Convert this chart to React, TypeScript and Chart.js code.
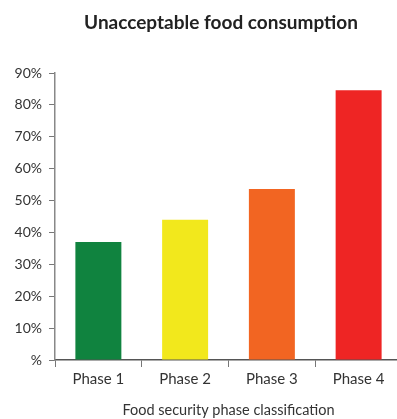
import React, { useEffect, useRef } from "react";
import { Chart, registerables } from "chart.js";

Chart.register(...registerables);

const chartTitle = "Unacceptable food consumption";
const xAxisTitle = "Food security phase classification";
const categories = ["Phase 1", "Phase 2", "Phase 3", "Phase 4"];
const values = [37, 44, 53.6, 84.6];
const barColors = ["#10833F", "#F2E81C", "#F26522", "#EE2524"];
const yTicks = [0, 10, 20, 30, 40, 50, 60, 70, 80, 90];

const FONT = "Lato, 'Open Sans', sans-serif";

const titlePlugin = {
  id: "customTitle",
  afterDraw(chart: any) {
    const ctx = chart.ctx;
    ctx.save();
    ctx.font = `bold 19px ${FONT}`;
    ctx.fillStyle = "#222";
    ctx.textAlign = "center";
    ctx.textBaseline = "middle";
    ctx.fillText(chartTitle, 221, 23);
    ctx.restore();
  },
};

export default function App() {
  const ref = useRef<HTMLCanvasElement>(null);
  useEffect(() => {
    if (!ref.current) return;
    const chart = new Chart(ref.current, {
      type: "bar",
      data: {
        labels: categories,
        datasets: [
          {
            data: values,
            backgroundColor: barColors,
            barPercentage: 0.53,
            categoryPercentage: 1,
          },
        ],
      },
      options: {
        animation: false,
        responsive: false,
        layout: { padding: { top: 73, right: 0, bottom: 0, left: 0 } },
        plugins: { legend: { display: false }, tooltip: { enabled: false } },
        scales: {
          x: {
            grid: {
              display: true,
              drawOnChartArea: false,
              drawTicks: true,
              tickLength: 7,
              color: "#777",
              lineWidth: 1,
            },
            border: { display: true, color: "#555", width: 1.5 },
            ticks: {
              color: "#333",
              font: { family: FONT, size: 15 },
              padding: 3,
            },
            title: {
              display: true,
              text: xAxisTitle,
              color: "#333",
              font: { family: FONT, size: 14.5 },
              padding: { top: 0, bottom: 0 },
            },
            afterFit(scale: any) {
              scale.height = 59;
            },
          },
          y: {
            min: 0,
            max: 90,
            afterBuildTicks(scale: any) {
              scale.ticks = yTicks.map((v) => ({ value: v }));
            },
            grid: {
              display: true,
              drawOnChartArea: false,
              drawTicks: true,
              tickLength: 6,
              color: "#777",
            },
            border: { display: true, color: "#888", width: 1.5 },
            ticks: {
              color: "#333",
              font: { family: FONT, size: 14 },
              padding: 7,
              callback: (v: any) => (v === 0 ? "%" : `${v}%`),
            },
            afterFit(scale: any) {
              scale.width = 55;
            },
          },
        },
      },
      plugins: [titlePlugin],
    });
    return () => chart.destroy();
  }, []);
  return (
    <div style={{ position: "fixed", left: 0, top: 0, width: 397, height: 419, overflow: "hidden", background: "#fff" }}>
      <canvas ref={ref} width={402} height={419} style={{ width: 402, height: 419, display: "block" }} />
    </div>
  );
}
